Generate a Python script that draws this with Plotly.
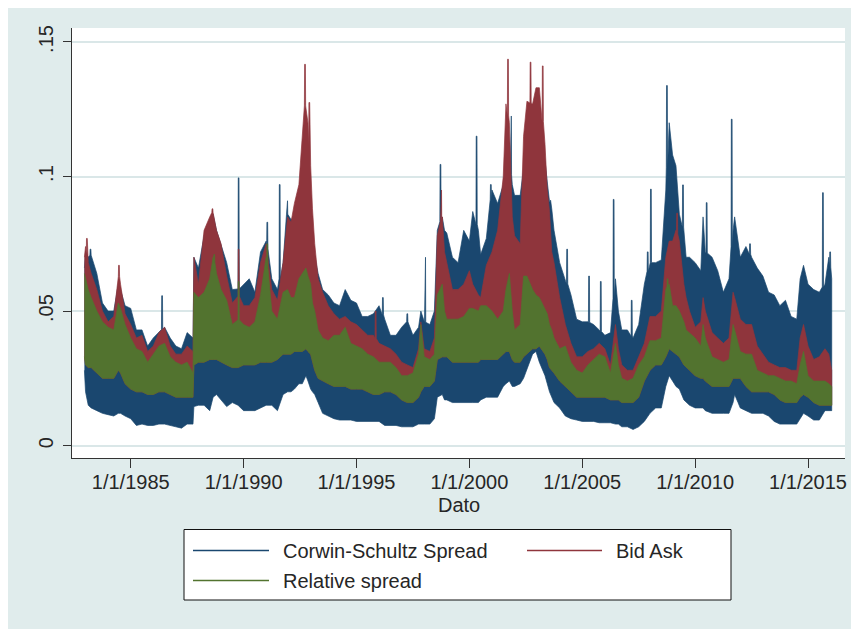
import numpy as np
import pandas as pd
import plotly.graph_objects as go

# ---------------- data ----------------
# envelope sample dates (decimal years)
env_years = [
    1982.95, 1983.00, 1983.12, 1983.25, 1983.50, 1983.75, 1984.00, 1984.25, 1984.45, 1984.55,
    1984.75, 1985.00, 1985.25, 1985.50, 1985.75, 1986.00, 1986.25, 1986.50, 1986.75, 1987.00,
    1987.25, 1987.50, 1987.76, 1987.80, 1988.00, 1988.25, 1988.50, 1988.65, 1988.80, 1989.00,
    1989.25, 1989.50, 1989.75, 1990.00, 1990.25, 1990.50, 1990.75, 1991.00, 1991.25, 1991.50,
    1991.75, 1991.95, 1992.10, 1992.25, 1992.45, 1992.60, 1992.76, 1992.85, 1992.97, 1993.05,
    1993.15, 1993.30, 1993.50, 1993.75, 1994.00, 1994.25, 1994.50, 1994.75, 1995.00, 1995.25,
    1995.50, 1995.75, 1996.00, 1996.25, 1996.50, 1996.75, 1997.00, 1997.25, 1997.50, 1997.75,
    1997.85, 1998.00, 1998.25, 1998.45, 1998.58, 1998.80, 1998.90, 1999.00, 1999.25, 1999.50,
    1999.75, 2000.00, 2000.15, 2000.40, 2000.50, 2000.75, 2001.00, 2001.25, 2001.50, 2001.62,
    2001.77, 2001.90, 2002.00, 2002.25, 2002.40, 2002.55, 2002.80, 2002.95, 2003.10, 2003.35,
    2003.45, 2003.55, 2003.65, 2003.75, 2004.00, 2004.25, 2004.50, 2004.75, 2005.00, 2005.25,
    2005.50, 2005.75, 2006.00, 2006.25, 2006.47, 2006.60, 2006.75, 2007.00, 2007.25, 2007.50,
    2007.75, 2008.00, 2008.25, 2008.50, 2008.70, 2008.85, 2009.00, 2009.15, 2009.30, 2009.50,
    2009.60, 2009.75, 2010.00, 2010.25, 2010.35, 2010.45, 2010.75, 2011.00, 2011.25, 2011.50,
    2011.68, 2011.75, 2011.90, 2012.00, 2012.25, 2012.50, 2012.75, 2013.00, 2013.25, 2013.50,
    2013.75, 2014.00, 2014.25, 2014.50, 2014.65, 2014.80, 2015.00, 2015.25, 2015.50, 2015.75,
    2015.92, 2016.05,
]

# Corwin-Schultz spread: upper / lower edge of the band
cs_hi = [
    0.066, 0.072, 0.070, 0.071, 0.064, 0.053, 0.050, 0.050, 0.060, 0.058,
    0.052, 0.051, 0.043, 0.043, 0.037, 0.040, 0.042, 0.044, 0.040, 0.037,
    0.036, 0.042, 0.040, 0.070, 0.066, 0.078, 0.084, 0.086, 0.080, 0.075,
    0.068, 0.058, 0.058, 0.060, 0.062, 0.057, 0.072, 0.076, 0.062, 0.058,
    0.068, 0.088, 0.084, 0.085, 0.090, 0.092, 0.090, 0.088, 0.084, 0.075,
    0.070, 0.064, 0.058, 0.056, 0.053, 0.052, 0.058, 0.054, 0.053, 0.048,
    0.048, 0.049, 0.052, 0.047, 0.041, 0.041, 0.044, 0.046, 0.041, 0.044,
    0.050, 0.046, 0.045, 0.050, 0.080, 0.085, 0.080, 0.079, 0.070, 0.068,
    0.080, 0.076, 0.087, 0.080, 0.071, 0.077, 0.095, 0.090, 0.097, 0.106,
    0.105, 0.097, 0.093, 0.093, 0.103, 0.114, 0.119, 0.115, 0.120, 0.106,
    0.098, 0.092, 0.088, 0.080, 0.068, 0.062, 0.056, 0.047, 0.046, 0.046,
    0.045, 0.043, 0.041, 0.042, 0.062, 0.050, 0.043, 0.043, 0.040, 0.045,
    0.060, 0.068, 0.068, 0.069, 0.095, 0.120, 0.108, 0.104, 0.086, 0.080,
    0.070, 0.070, 0.068, 0.065, 0.085, 0.072, 0.070, 0.065, 0.057, 0.062,
    0.080, 0.085, 0.076, 0.070, 0.074, 0.070, 0.066, 0.063, 0.057, 0.056,
    0.052, 0.054, 0.048, 0.047, 0.062, 0.067, 0.060, 0.058, 0.057, 0.060,
    0.070, 0.062,
]
cs_lo = [
    0.028, 0.020, 0.015, 0.014, 0.013, 0.012, 0.0115, 0.011, 0.012, 0.012,
    0.011, 0.010, 0.0075, 0.008, 0.0075, 0.0075, 0.008, 0.008, 0.0075, 0.007,
    0.0065, 0.008, 0.008, 0.0145, 0.015, 0.015, 0.013, 0.018, 0.019, 0.017,
    0.0145, 0.016, 0.015, 0.013, 0.013, 0.013, 0.014, 0.015, 0.015, 0.013,
    0.019, 0.020, 0.020, 0.021, 0.023, 0.023, 0.026, 0.024, 0.021, 0.020,
    0.019, 0.016, 0.012, 0.011, 0.010, 0.0095, 0.0095, 0.0095, 0.009, 0.009,
    0.009, 0.009, 0.009, 0.0075, 0.0075, 0.0075, 0.007, 0.007, 0.007, 0.008,
    0.008, 0.008, 0.008, 0.010, 0.018, 0.019, 0.017, 0.017, 0.016, 0.016,
    0.016, 0.016, 0.016, 0.016, 0.017, 0.018, 0.018, 0.018, 0.022, 0.023,
    0.024, 0.022, 0.022, 0.023, 0.025, 0.028, 0.034, 0.035, 0.031, 0.026,
    0.023, 0.020, 0.018, 0.016, 0.014, 0.011, 0.010, 0.0095, 0.009, 0.009,
    0.009, 0.0085, 0.0085, 0.0085, 0.008, 0.008, 0.007, 0.007, 0.006, 0.007,
    0.009, 0.012, 0.014, 0.014, 0.022, 0.026, 0.024, 0.022, 0.021, 0.017,
    0.016, 0.015, 0.014, 0.014, 0.014, 0.013, 0.012, 0.012, 0.012, 0.012,
    0.016, 0.019, 0.016, 0.014, 0.013, 0.012, 0.012, 0.012, 0.011, 0.009,
    0.008, 0.008, 0.008, 0.008, 0.010, 0.012, 0.011, 0.0095, 0.0095, 0.013,
    0.013, 0.013,
]
# Bid Ask: upper edge of the band
ba_hi = [
    0.070, 0.074, 0.068, 0.064, 0.058, 0.050, 0.046, 0.048, 0.064, 0.060,
    0.049, 0.045, 0.040, 0.041, 0.035, 0.037, 0.042, 0.044, 0.037, 0.034,
    0.034, 0.037, 0.035, 0.070, 0.060, 0.080, 0.085, 0.087, 0.080, 0.075,
    0.063, 0.053, 0.056, 0.052, 0.052, 0.055, 0.068, 0.075, 0.058, 0.054,
    0.068, 0.085, 0.083, 0.090, 0.097, 0.115, 0.130, 0.120, 0.104, 0.088,
    0.075, 0.062, 0.057, 0.052, 0.049, 0.047, 0.048, 0.046, 0.045, 0.043,
    0.041, 0.041, 0.038, 0.037, 0.036, 0.034, 0.031, 0.030, 0.029, 0.036,
    0.046, 0.036, 0.035, 0.040, 0.078, 0.085, 0.072, 0.068, 0.058, 0.058,
    0.060, 0.065, 0.060, 0.056, 0.055, 0.067, 0.072, 0.080, 0.100, 0.127,
    0.120, 0.085, 0.078, 0.075, 0.115, 0.128, 0.127, 0.133, 0.133, 0.112,
    0.095, 0.087, 0.072, 0.068, 0.055, 0.045, 0.038, 0.033, 0.033, 0.035,
    0.036, 0.038, 0.036, 0.030, 0.045, 0.036, 0.030, 0.028, 0.028, 0.033,
    0.038, 0.048, 0.048, 0.050, 0.070, 0.076, 0.076, 0.080, 0.076, 0.060,
    0.055, 0.050, 0.044, 0.046, 0.055, 0.050, 0.042, 0.040, 0.038, 0.040,
    0.057, 0.055, 0.050, 0.047, 0.045, 0.045, 0.037, 0.034, 0.031, 0.030,
    0.029, 0.029, 0.028, 0.028, 0.040, 0.045, 0.037, 0.032, 0.033, 0.036,
    0.034, 0.028,
]
# Relative spread: upper / lower edge of the band
rs_hi = [
    0.064, 0.062, 0.058, 0.055, 0.050, 0.046, 0.044, 0.043, 0.053, 0.051,
    0.045, 0.040, 0.036, 0.035, 0.031, 0.034, 0.037, 0.038, 0.033, 0.031,
    0.030, 0.031, 0.027, 0.057, 0.055, 0.057, 0.062, 0.070, 0.064, 0.058,
    0.054, 0.045, 0.047, 0.045, 0.044, 0.046, 0.056, 0.070, 0.050, 0.047,
    0.057, 0.058, 0.055, 0.055, 0.062, 0.064, 0.066, 0.063, 0.060, 0.053,
    0.050, 0.043, 0.040, 0.039, 0.041, 0.041, 0.044, 0.038, 0.037, 0.036,
    0.034, 0.033, 0.031, 0.031, 0.031, 0.029, 0.026, 0.026, 0.027, 0.034,
    0.045, 0.033, 0.032, 0.034, 0.056, 0.060, 0.050, 0.047, 0.047, 0.047,
    0.048, 0.051, 0.051, 0.050, 0.052, 0.052, 0.050, 0.047, 0.050, 0.058,
    0.064, 0.050, 0.043, 0.045, 0.063, 0.063, 0.058, 0.056, 0.055, 0.051,
    0.049, 0.045, 0.043, 0.040, 0.036, 0.037, 0.031, 0.028, 0.027, 0.030,
    0.032, 0.034, 0.033, 0.027, 0.038, 0.030, 0.025, 0.024, 0.025, 0.030,
    0.033, 0.039, 0.039, 0.040, 0.058, 0.060, 0.052, 0.052, 0.050, 0.046,
    0.043, 0.042, 0.040, 0.037, 0.045, 0.040, 0.033, 0.032, 0.031, 0.032,
    0.045, 0.043, 0.038, 0.035, 0.034, 0.034, 0.028, 0.027, 0.026, 0.026,
    0.025, 0.024, 0.024, 0.023, 0.030, 0.035, 0.026, 0.024, 0.024, 0.024,
    0.023, 0.022,
]
rs_lo = [
    0.033, 0.030, 0.029, 0.029, 0.027, 0.025, 0.025, 0.025, 0.028, 0.027,
    0.023, 0.021, 0.020, 0.020, 0.019, 0.019, 0.020, 0.020, 0.019, 0.018,
    0.018, 0.018, 0.018, 0.030, 0.031, 0.031, 0.032, 0.032, 0.032, 0.031,
    0.030, 0.029, 0.029, 0.030, 0.030, 0.030, 0.031, 0.031, 0.031, 0.032,
    0.034, 0.034, 0.034, 0.035, 0.035, 0.035, 0.036, 0.035, 0.034, 0.031,
    0.028, 0.025, 0.024, 0.023, 0.022, 0.022, 0.022, 0.021, 0.021, 0.021,
    0.020, 0.019, 0.019, 0.020, 0.020, 0.019, 0.017, 0.016, 0.016, 0.018,
    0.020, 0.022, 0.022, 0.024, 0.032, 0.033, 0.033, 0.033, 0.031, 0.031,
    0.031, 0.031, 0.031, 0.031, 0.032, 0.032, 0.032, 0.032, 0.034, 0.035,
    0.035, 0.032, 0.031, 0.031, 0.033, 0.034, 0.036, 0.036, 0.037, 0.034,
    0.032, 0.029, 0.028, 0.027, 0.024, 0.022, 0.020, 0.018, 0.018, 0.018,
    0.018, 0.018, 0.018, 0.017, 0.017, 0.017, 0.016, 0.016, 0.016, 0.018,
    0.024, 0.028, 0.030, 0.030, 0.033, 0.036, 0.035, 0.034, 0.033, 0.030,
    0.029, 0.028, 0.026, 0.025, 0.025, 0.024, 0.022, 0.022, 0.022, 0.022,
    0.025, 0.025, 0.025, 0.025, 0.022, 0.020, 0.020, 0.020, 0.020, 0.019,
    0.017, 0.016, 0.016, 0.016, 0.018, 0.019, 0.018, 0.016, 0.015, 0.015,
    0.015, 0.015,
]

# isolated daily spikes (decimal year, value)
cs_spike_years = [1983.22, 1986.39, 1989.78, 1991.05, 1991.60, 1991.93, 1992.40, 1996.17, 1997.25,
                  1998.04, 1998.72, 2000.32, 2000.95, 2001.84, 2003.57, 2004.33, 2005.30, 2005.82,
                  2006.39, 2007.19, 2007.90, 2008.04, 2008.75, 2009.46, 2010.51, 2011.62, 2012.43,
                  2015.66, 2015.98]
cs_spike_vals = [0.073, 0.0557, 0.0995, 0.083, 0.097, 0.091, 0.092, 0.055, 0.049,
                 0.070, 0.1045, 0.115, 0.097, 0.1225, 0.0905, 0.073, 0.063, 0.061,
                 0.0915, 0.054, 0.072, 0.0953, 0.1338, 0.0969, 0.0903, 0.1213, 0.075,
                 0.094, 0.072]
ba_spike_years = [1983.06, 1984.48, 1988.62, 1989.78, 1992.72, 1992.91, 1995.85, 1998.75,
                  2001.71, 2002.71, 2003.25, 2009.20]
ba_spike_vals = [0.077, 0.067, 0.088, 0.073, 0.1417, 0.1275, 0.050, 0.095,
                 0.1436, 0.1425, 0.1411, 0.0864]
rs_spike_years = [1988.70, 1989.78, 1991.05, 2008.78]
rs_spike_vals = [0.071, 0.061, 0.075, 0.062]

x_tick_dates = ["1985-01-01", "1990-01-01", "1995-01-01", "2000-01-01",
                "2005-01-01", "2010-01-01", "2015-01-01"]
x_tick_labels = ["1/1/1985", "1/1/1990", "1/1/1995", "1/1/2000",
                 "1/1/2005", "1/1/2010", "1/1/2015"]
y_tick_vals = [0, 0.05, 0.1, 0.15]
y_tick_labels = ["0", ".05", ".1", ".15"]
series_names = ["Corwin-Schultz Spread", "Bid Ask", "Relative spread"]

# ---------------- styling ----------------
NAVY = "#1A476F"
MAROON = "#8F353C"
GREEN = "#52732F"
BG = "#E0ECEC"
GRID = "#DAE7E8"
TXT = "#262626"
FONT = "Liberation Sans, Arial, Helvetica, sans-serif"

OFF = 8                      # the page places the figure 8 px from the top-left corner
W, H = 859 - OFF, 629 - OFF  # figure reaches the window's right / bottom edge
ML, MT = 72 - OFF, 28 - OFF  # plot area: x 72..845, y 28..458 in window pixels
MR = W - (845 - OFF)
MB = H - (458 - OFF)
PW, PH = W - ML - MR, H - MT - MB


def px2x(px):
    """window pixel x -> paper x"""
    return (px - OFF - ML) / PW


def py2y(py):
    """window pixel y -> paper y"""
    return (H - MB - (py - OFF)) / PH


def yr2dt(y):
    yi = int(np.floor(y))
    a = pd.Timestamp(yi, 1, 1)
    b = pd.Timestamp(yi + 1, 1, 1)
    return a + (b - a) * (y - yi)


HALF = 0.028  # spike half width in years (about 1.3 px wide spike)


def upper_edge(hi, spike_years, spike_vals):
    ex = np.array(env_years, dtype=float)
    ey = np.array(hi, dtype=float)
    sy = np.array(spike_years, dtype=float)
    keep = np.ones(len(ex), bool)
    for s in sy:
        keep &= np.abs(ex - s) > HALF * 1.5
    pts = list(zip(ex[keep], ey[keep]))
    for s, v in zip(spike_years, spike_vals):
        base = float(np.interp(s, ex, ey))
        pts += [(s - HALF, base), (s - HALF * 0.6, v), (s + HALF * 0.6, v), (s + HALF, base)]
    pts.sort(key=lambda p: p[0])
    return [p[0] for p in pts], [p[1] for p in pts]


def band(hi_x, hi_y, lo_x, lo_y, color):
    xs = [yr2dt(v) for v in list(hi_x) + list(lo_x)[::-1]]
    ys = list(hi_y) + list(lo_y)[::-1]
    return go.Scatter(x=xs, y=ys, mode="lines", fill="toself", fillcolor=color,
                      line=dict(color=color, width=0.7), hoverinfo="skip", showlegend=False)


fig = go.Figure()
cx, cy = upper_edge(cs_hi, cs_spike_years, cs_spike_vals)
fig.add_trace(band(cx, cy, env_years, cs_lo, NAVY))
bx, by = upper_edge(ba_hi, ba_spike_years, ba_spike_vals)
fig.add_trace(band(bx, by, env_years, rs_lo, MAROON))
gx, gy = upper_edge(rs_hi, rs_spike_years, rs_spike_vals)
fig.add_trace(band(gx, gy, env_years, rs_lo, GREEN))

shapes = [
    # legend box
    dict(type="rect", xref="paper", yref="paper", x0=px2x(184), x1=px2x(731), y0=py2y(600), y1=py2y(529.5),
         fillcolor="white", line=dict(color="#111111", width=1)),
]
annotations = []
legend_rows = [(193, 269, 281, 550.5, NAVY, series_names[0]),
               (527, 602, 614, 550.5, MAROON, series_names[1]),
               (193, 269, 281, 580.5, GREEN, series_names[2])]
for x0, x1, tx, yy, col, name in legend_rows:
    shapes.append(dict(type="line", xref="paper", yref="paper", x0=px2x(x0), x1=px2x(x1),
                       y0=py2y(yy), y1=py2y(yy), line=dict(color=col, width=1.6)))
    annotations.append(dict(xref="paper", yref="paper", x=px2x(tx), y=py2y(yy), text=name,
                            showarrow=False, xanchor="left", yanchor="middle",
                            font=dict(size=20, color=TXT, family=FONT)))
annotations.append(dict(xref="paper", yref="paper", x=0.5, y=py2y(505), text="Dato",
                        showarrow=False, xanchor="center", yanchor="middle",
                        font=dict(size=20, color=TXT, family=FONT)))

fig.update_layout(
    width=W, height=H,
    margin=dict(l=ML, r=MR, t=MT, b=MB, pad=0),
    paper_bgcolor=BG, plot_bgcolor="white",
    font=dict(family=FONT, size=20, color=TXT),
    showlegend=False,
    shapes=shapes, annotations=annotations,
    xaxis=dict(type="date", range=["1982-05-27", "2016-08-21"],
               tickmode="array", tickvals=x_tick_dates, ticktext=x_tick_labels,
               ticks="outside", ticklen=9, tickwidth=1.2, tickcolor="#333333",
               showline=True, linecolor="#333333", linewidth=1.3,
               showgrid=False, zeroline=False, ticklabelstandoff=-3,
               tickfont=dict(size=20, color=TXT, family=FONT)),
    yaxis=dict(range=[-0.0046, 0.1552], tickmode="array", tickvals=y_tick_vals,
               ticktext=y_tick_labels, tickangle=-90,
               ticks="outside", ticklen=8, tickwidth=1.2, tickcolor="#333333",
               showline=True, linecolor="#333333", linewidth=1.3,
               showgrid=True, gridcolor=GRID, gridwidth=1.8, zeroline=False,
               ticklabelstandoff=2,
               tickfont=dict(size=20, color=TXT, family=FONT)),
)

fig.write_html("out.html")
